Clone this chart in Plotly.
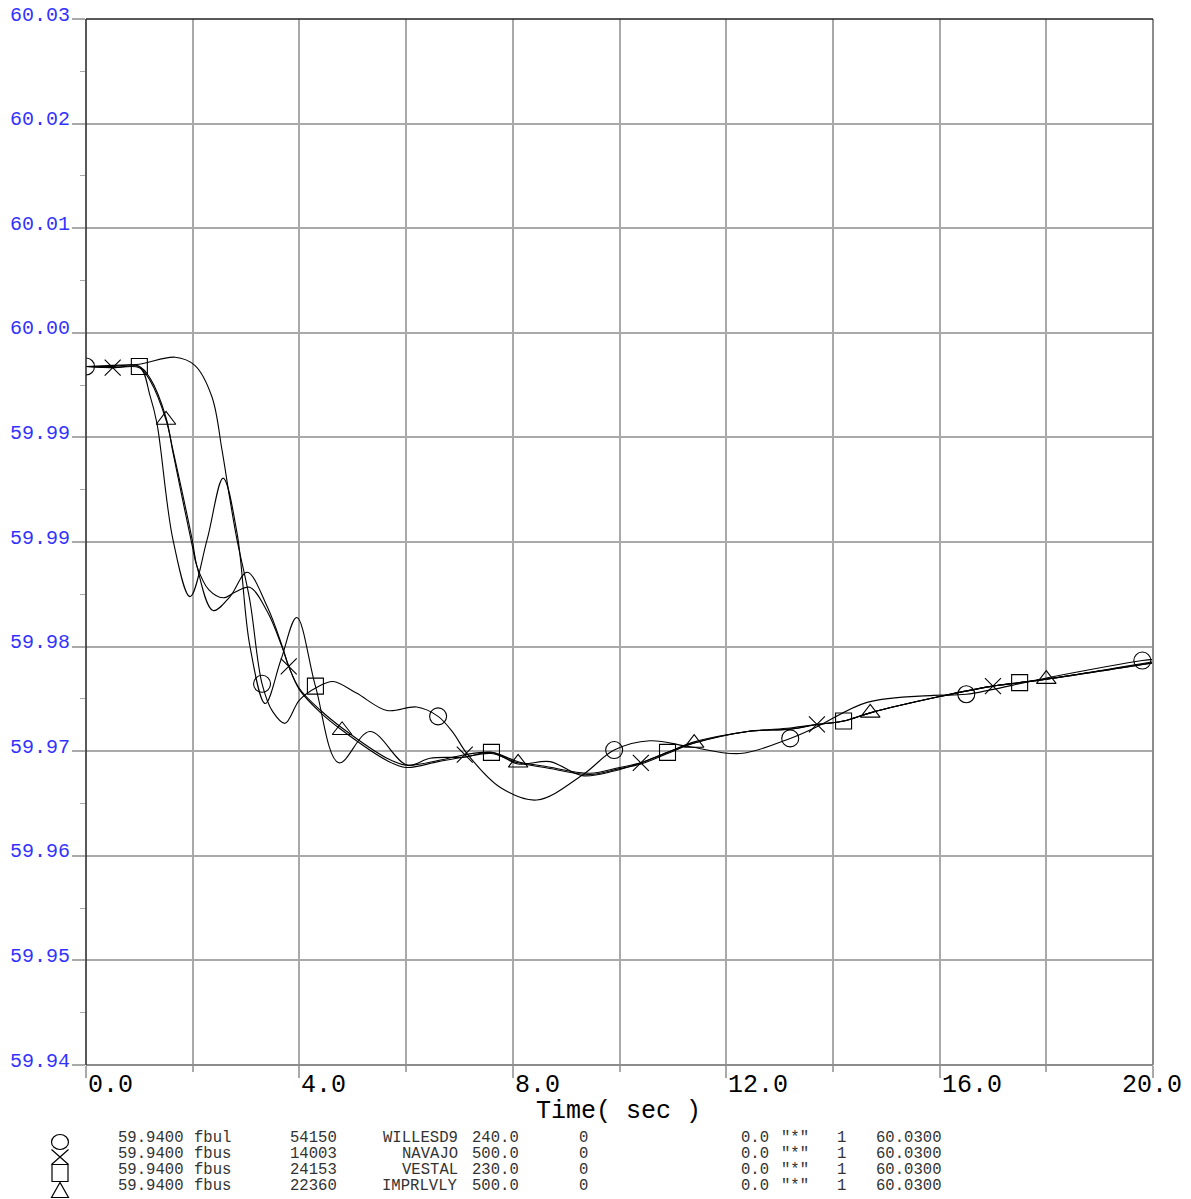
import plotly.graph_objects as go

# ---------------- data (time in s, frequency in Hz) ----------------
t_willesd9 = [0, 0.5, 1.0, 1.67, 2.04, 2.36, 2.55, 2.7, 2.83, 3.07, 3.3, 3.5, 3.73, 4.0, 4.33, 4.63,
              5.07, 5.64, 6.2, 6.6, 6.88, 7.14, 7.76, 8.45, 9.32, 9.9, 10.57, 11.3, 12.26, 13.2,
              13.7, 14.64, 15.88, 16.5, 18.0, 19.8, 20.0]
f_willesd9 = [60.0001, 60.0002, 60.0003, 60.0009, 60.0002, 59.9975, 59.9929, 59.9886, 59.9852,
              59.9800, 59.9728, 59.9704, 59.9694, 59.9714, 59.9725, 59.9730, 59.9720, 59.9705,
              59.9708, 59.9700, 59.9686, 59.9668, 59.9639, 59.9628, 59.9650, 59.9671, 59.9679,
              59.9674, 59.9668, 59.9681, 59.9691, 59.9712, 59.9718, 59.9719, 59.9733, 59.9748,
              59.9749]
mk_willesd9 = [0, 3.3, 6.6, 9.9, 13.2, 16.5, 19.8]

t_navajo = [0, 0.5, 1.0, 1.2, 1.5, 1.63, 1.99, 2.08, 2.3, 2.57, 2.8, 3.07, 3.4, 3.68, 3.8, 4.0,
            4.4, 4.8, 5.64, 6.0, 6.6, 7.1, 7.6, 8.1, 8.6, 9.45, 10.0, 10.4, 10.9, 11.4, 12.4,
            13.2, 13.7, 14.2, 14.7, 16.0, 17.0, 17.5, 18.0, 20.0]
f_navajo = [60.0001, 60.0000, 60.0001, 59.9991, 59.9957, 59.9927, 59.9847, 59.9829, 59.9809,
            59.9802, 59.9807, 59.9811, 59.9790, 59.9759, 59.9743, 59.9724, 59.9705, 59.9690,
            59.9664, 59.9658, 59.9662, 59.9667, 59.9669, 59.9661, 59.9657, 59.9651, 59.9656,
            59.9660, 59.9669, 59.9678, 59.9687, 59.9690, 59.9693, 59.9696, 59.9703, 59.9717,
            59.9726, 59.9729, 59.9732, 59.9747]
mk_navajo = [0.5, 3.8, 7.1, 10.4, 13.7, 17.0]

t_vestal = [0, 0.5, 1.0, 1.2, 1.33, 1.63, 1.95, 2.27, 2.57, 2.83, 3.07, 3.36, 3.65, 3.95, 4.3,
            4.74, 5.32, 6.02, 6.45, 7.1, 7.6, 8.1, 8.7, 9.3, 9.9, 10.4, 10.9, 11.4, 12.4, 13.2,
            13.7, 14.2, 14.7, 16.0, 17.0, 17.5, 18.0, 20.0]
f_vestal = [60.0001, 60.0001, 60.0001, 59.9976, 59.9952, 59.9852, 59.9803, 59.9852, 59.9905,
            59.9858, 59.9761, 59.9711, 59.9748, 59.9785, 59.9726, 59.9660, 59.9687, 59.9658,
            59.9664, 59.9665, 59.9669, 59.9659, 59.9661, 59.9649, 59.9653, 59.9660, 59.9669,
            59.9677, 59.9687, 59.9689, 59.9693, 59.9696, 59.9703, 59.9717, 59.9726, 59.9729,
            59.9732, 59.9746]
mk_vestal = [1.0, 4.3, 7.6, 10.9, 14.2, 17.5]

t_imprlvly = [0, 0.5, 1.0, 1.2, 1.5, 1.63, 1.99, 2.08, 2.38, 2.7, 3.02, 3.4, 3.68, 3.8, 4.0, 4.4,
              4.8, 5.64, 6.0, 6.6, 7.1, 7.6, 8.1, 8.6, 9.45, 10.0, 10.4, 10.9, 11.4, 12.4, 13.2,
              13.7, 14.2, 14.7, 16.0, 17.0, 17.5, 18.0, 20.0]
f_imprlvly = [60.0001, 60.0000, 60.0000, 59.9989, 59.9955, 59.9929, 59.9852, 59.9829, 59.9791,
              59.9803, 59.9824, 59.9794, 59.9760, 59.9743, 59.9723, 59.9703, 59.9688, 59.9662,
              59.9656, 59.9661, 59.9665, 59.9668, 59.9660, 59.9656, 59.9650, 59.9655, 59.9659,
              59.9668, 59.9677, 59.9687, 59.9689, 59.9693, 59.9696, 59.9703, 59.9717, 59.9726,
              59.9729, 59.9732, 59.9746]
mk_imprlvly = [1.5, 4.8, 8.1, 11.4, 14.7, 18.0]

x_tick_values = [0, 4, 8, 12, 16, 20]
x_tick_labels = ["0.0", "4.0", "8.0", "12.0", "16.0", "20.0"]
y_tick_values = [59.94, 59.949, 59.958, 59.967, 59.976, 59.985, 59.994, 60.003, 60.012, 60.021, 60.03]
y_tick_labels = ["59.94", "59.95", "59.96", "59.97", "59.98", "59.99", "59.99", "60.00", "60.01",
                 "60.02", "60.03"]
x_title = "Time( sec )"

# legend table columns
leg_min = ["59.9400", "59.9400", "59.9400", "59.9400"]
leg_type = ["fbul", "fbus", "fbus", "fbus"]
leg_bus = ["54150", "14003", "24153", "22360"]
leg_name = ["WILLESD9", "NAVAJO", "VESTAL", "IMPRLVLY"]
leg_kv = ["240.0", "500.0", "230.0", "500.0"]
leg_id = ["0", "0", "0", "0"]
leg_off = ["0.0", "0.0", "0.0", "0.0"]
leg_ckt = ['"*"', '"*"', '"*"', '"*"']
leg_one = ["1", "1", "1", "1"]
leg_max = ["60.0300", "60.0300", "60.0300", "60.0300"]

# ---------------- styling / geometry ----------------
W, H = 1191, 1199
L, R, T, B = 86, 38, 19, 134
PW, PH = W - L - R, H - T - B
MONO = "Liberation Mono, Courier New, monospace"
GRID = "#a9a9a9"
BLUE = "#3333ff"


def px_x(p):
    return (p - L) / PW


def px_y(p):
    return (H - B - p) / PH


series = [
    (t_willesd9, f_willesd9, mk_willesd9, "circle-open", 17),
    (t_navajo, f_navajo, mk_navajo, "x-thin-open", 16),
    (t_vestal, f_vestal, mk_vestal, "square-open", 16),
    (t_imprlvly, f_imprlvly, mk_imprlvly, "triangle-up-open", 17),
]

fig = go.Figure()
for ts, fs, mks, sym, sz in series:
    fig.add_trace(go.Scatter(x=ts, y=fs, mode="lines",
                             line=dict(color="black", width=1.1, shape="spline", smoothing=1.0),
                             showlegend=False, hoverinfo="skip"))
    mx = [t for t in ts if t in mks]
    my = [f for t, f in zip(ts, fs) if t in mks]
    fig.add_trace(go.Scatter(x=mx, y=my, mode="markers",
                             marker=dict(symbol=sym, size=sz, color="black",
                                         line=dict(color="black", width=1.1)),
                             showlegend=False, hoverinfo="skip"))

annotations = []
# y tick labels
for v, lab in zip(y_tick_values, y_tick_labels):
    annotations.append(dict(x=0, xref="paper", xshift=-14, xanchor="right",
                            y=v, yref="y", yshift=4, yanchor="middle", text=lab,
                            showarrow=False, font=dict(family=MONO, size=20, color=BLUE)))
# x tick labels
for v, lab in zip(x_tick_values, x_tick_labels):
    last = v == max(x_tick_values)
    annotations.append(dict(x=v, xref="x", xshift=(31 if last else 0),
                            xanchor=("right" if last else "left"),
                            y=0, yref="paper", yshift=-20, yanchor="middle", text=lab,
                            showarrow=False, font=dict(family=MONO, size=25, color="black")))
annotations.append(dict(x=px_x(618), xref="paper", xanchor="center", y=px_y(1111), yref="paper",
                        yanchor="middle", text=x_title, showarrow=False,
                        font=dict(family=MONO, size=25, color="black")))

# legend table
row_y = [1138, 1154, 1170, 1186]
cols = [
    (leg_min, 116, "left"), (leg_type, 192, "left"), (leg_bus, 288, "left"),
    (leg_name, 460, "right"), (leg_kv, 470, "left"), (leg_id, 577, "left"),
    (leg_off, 739, "left"), (leg_ckt, 779, "left"), (leg_one, 835, "left"),
    (leg_max, 874, "left"),
]
for col, cx, anc in cols:
    for txt, ry in zip(col, row_y):
        annotations.append(dict(x=px_x(cx), xref="paper", xanchor=anc, y=px_y(ry), yref="paper",
                                yanchor="middle", text=txt, showarrow=False,
                                font=dict(family=MONO, size=15.6, color="#333333")))

shapes = [
    dict(type="line", xref="paper", yref="paper", x0=0, x1=1, y0=0, y1=0,
         line=dict(color="#8c8c8c", width=2), layer="above"),
    dict(type="line", xref="paper", yref="paper", x0=1, x1=1, y0=0, y1=1,
         line=dict(color="#8c8c8c", width=2), layer="above"),
    dict(type="line", xref="paper", yref="paper", x0=0, x1=1, y0=1, y1=1,
         line=dict(color="#222222", width=1.5), layer="above"),
    dict(type="line", xref="paper", yref="paper", x0=0, x1=0, y0=0, y1=1,
         line=dict(color="#222222", width=1.5), layer="above"),
]

# legend key glyphs (pixel-sized shapes beside the table)
glyph_x = 60
glyph_rows = [1142, 1157, 1173, 1190]
glyph_defs = [
    dict(type="circle", x0=-8.5, x1=8.5, y0=-7.5, y1=7.5),
    dict(type="path", path="M -8.5,-7.5 L 8.5,7.5 M -8.5,7.5 L 8.5,-7.5"),
    dict(type="rect", x0=-8, x1=8, y0=-8.5, y1=8.5),
    dict(type="path", path="M -8.5,-7.5 L 8.5,-7.5 L 0,7.5 Z"),
]
for gy, gdef in zip(glyph_rows, glyph_defs):
    shp = dict(xref="paper", yref="paper", xsizemode="pixel", ysizemode="pixel",
               xanchor=px_x(glyph_x), yanchor=px_y(gy),
               line=dict(color="black", width=1.2), fillcolor="rgba(0,0,0,0)", layer="above")
    shp.update(gdef)
    shapes.append(shp)

fig.update_layout(
    width=W, height=H,
    margin=dict(l=L, r=R, t=T, b=B, pad=0),
    paper_bgcolor="white", plot_bgcolor="white",
    showlegend=False,
    annotations=annotations,
    shapes=shapes,
    xaxis=dict(range=[0, 20], tickmode="array", tickvals=x_tick_values, showticklabels=False,
               ticks="outside", ticklen=12, tickwidth=1.5, tickcolor=GRID,
               showgrid=True, gridcolor=GRID, gridwidth=1.5, zeroline=False, showline=False,
               minor=dict(tickmode="array", tickvals=[2, 6, 10, 14, 18], ticks="outside",
                          ticklen=6, tickwidth=1.5, tickcolor=GRID, showgrid=True,
                          gridcolor=GRID, gridwidth=1.5)),
    yaxis=dict(range=[59.94, 60.03], tickmode="array", tickvals=y_tick_values,
               showticklabels=False, ticks="outside", ticklen=13, tickwidth=1.5, tickcolor=GRID,
               showgrid=True, gridcolor=GRID, gridwidth=1.5, zeroline=False, showline=False,
               minor=dict(tickmode="array",
                          tickvals=[(a + b) / 2 for a, b in zip(y_tick_values[:-1], y_tick_values[1:])],
                          ticks="outside", ticklen=5, tickwidth=1.2, tickcolor=GRID,
                          showgrid=False)),
)

fig.write_html("out.html", config={"displayModeBar": False},
               post_script="document.body.style.margin='0';")
